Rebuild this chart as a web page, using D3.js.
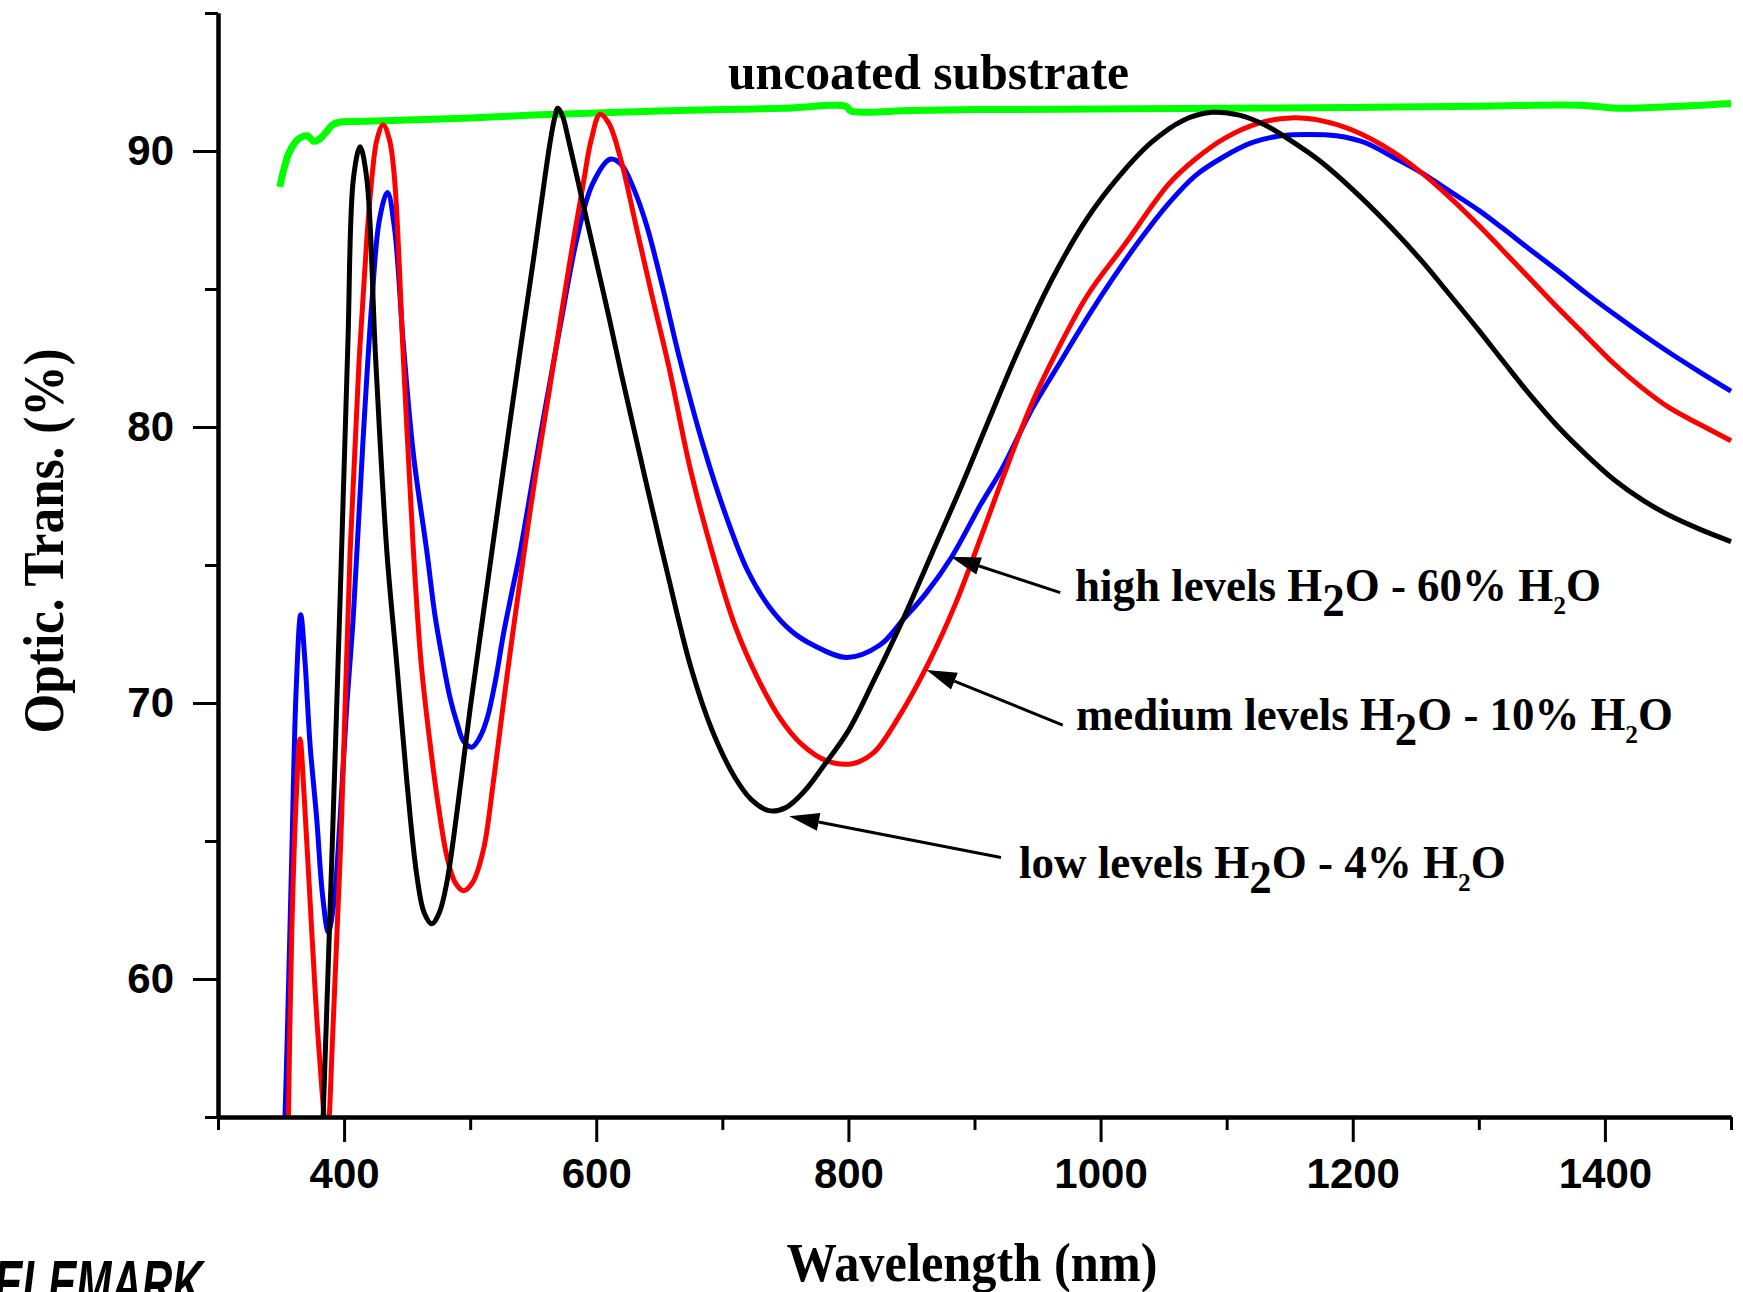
<!DOCTYPE html>
<html>
<head>
<meta charset="utf-8">
<script src="https://cdn.jsdelivr.net/npm/d3@7"></script>
<style>
  html, body { margin: 0; padding: 0; background: #fff; }
  svg { display: block; }
  .tick text { font-family: "Liberation Sans", Arial, sans-serif; font-weight: bold; font-size: 42px; fill: #000; }
  .serif { font-family: "Liberation Serif", "Times New Roman", serif; font-weight: bold; fill: #000; }
</style>
</head>
<body>
<div id="chart"></div>
<script>
// wavelength (nm) / transmission (%)
const subWl = [349, 352, 356, 361, 366, 371, 376, 381, 386, 391, 397, 410, 450, 500, 550, 600, 650, 700, 750, 798, 802, 850, 900, 1000, 1100, 1200, 1300, 1380, 1410, 1450, 1500];
const subT  = [88.7, 89.3, 89.9, 90.3, 90.5, 90.55, 90.35, 90.45, 90.7, 90.95, 91.05, 91.07, 91.12, 91.2, 91.3, 91.38, 91.45, 91.5, 91.55, 91.62, 91.45, 91.47, 91.5, 91.52, 91.55, 91.58, 91.62, 91.66, 91.55, 91.6, 91.72];

const highWl = [352.5, 355, 358.5, 362, 365.6, 369, 373, 378.3, 383, 387.5, 392, 396.8, 402, 407.4, 415, 422, 428, 434.4, 440, 447, 455, 465.6, 472, 478.8, 484, 489.4, 495, 501.3, 507, 513.2, 520, 526.4, 533, 539.7, 550, 560, 572, 585, 597, 611, 620, 630, 640, 653, 666, 685, 702, 720, 737, 755, 772, 799, 825, 843, 862, 882, 905, 922, 945, 966, 990, 1010, 1030, 1054, 1075, 1098, 1120, 1143, 1165, 1187, 1210, 1231, 1255, 1275, 1300, 1319, 1340, 1363, 1385, 1407, 1430, 1451, 1475, 1500];
const highT  = [54, 58, 64.45, 70.5, 73.2, 71.5, 68.5, 65.8, 63.0, 61.7, 62.8, 65.8, 69.8, 73.2, 79.5, 84.5, 87.5, 88.5, 87.2, 83.0, 79.0, 75.5, 73.2, 71.4, 70.2, 69.3, 68.6, 68.4, 68.7, 69.4, 70.8, 72.5, 74.0, 75.5, 78.2, 80.8, 83.8, 86.9, 88.8, 89.7, 89.5, 88.6, 87.3, 85.0, 82.5, 79.3, 76.9, 74.8, 73.5, 72.6, 72.1, 71.65, 72.1, 73.0, 74.0, 75.3, 77.2, 78.5, 80.6, 82.2, 84.0, 85.4, 86.7, 88.1, 89.1, 89.8, 90.3, 90.55, 90.6, 90.55, 90.3, 89.8, 89.2, 88.6, 87.85, 87.2, 86.45, 85.65, 84.85, 84.1, 83.35, 82.7, 82.0, 81.3];

const medWl = [355.5, 358.5, 362, 365, 368.5, 374.4, 380, 386.5, 391, 398, 404.8, 412, 418, 422, 426, 431, 436, 440, 447, 455, 461, 468, 475, 481.5, 488, 494.7, 502, 510.6, 518, 526.4, 534, 542.3, 552, 562, 572, 582, 590, 596, 603, 610, 620, 631, 644, 657.5, 675, 693, 710, 728, 745, 763, 783, 803, 820, 840, 863, 885, 905, 922, 945, 966, 990, 1019, 1054, 1075, 1098, 1125, 1151, 1175, 1200, 1231, 1255, 1275, 1300, 1319, 1340, 1363, 1385, 1407, 1430, 1451, 1475, 1500];
const medT  = [54, 61.7, 66.5, 68.7, 66.5, 61.7, 57.5, 54.3, 58, 65.8, 75.5, 82.5, 86.8, 89, 90.4, 90.95, 90.4, 89, 82.5, 75.5, 71.5, 68.6, 66.2, 64.45, 63.5, 63.2, 63.5, 64.7, 67.0, 70.0, 72.6, 75.3, 78.3, 81.1, 84.0, 86.8, 88.9, 90.4, 91.33, 91.0, 89.6, 87.4, 84.8, 82.2, 78.4, 75.3, 72.8, 70.9, 69.5, 68.5, 67.9, 67.8, 68.2, 69.5, 71.4, 73.6, 76.0, 78.1, 80.8, 82.8, 84.8, 86.6, 88.8, 89.7, 90.45, 91.0, 91.2, 91.1, 90.75, 90.0, 89.2, 88.4, 87.3, 86.4, 85.4, 84.3, 83.3, 82.3, 81.4, 80.7, 80.1, 79.5];

const lowWl = [383, 390, 397, 403, 407.4, 412.7, 418, 425, 433.9, 441.8, 449.7, 457.7, 463.5, 469.6, 475.5, 481.5, 489.4, 500, 510, 520, 531, 541, 550, 557, 563, 567, 569.5, 573, 578, 590, 600, 610, 620, 630, 640, 657, 675, 692, 710, 723, 737, 750, 765, 780, 800, 820, 842, 867, 890, 910, 935, 962, 990, 1015, 1040, 1065, 1088, 1110, 1130, 1150, 1175, 1200, 1231, 1255, 1275, 1300, 1319, 1340, 1363, 1385, 1407, 1430, 1451, 1475, 1500];
const lowT  = [54.5, 64, 74, 83, 89, 90.15, 89, 82.5, 75.5, 71.4, 67.2, 63.75, 62.4, 62.0, 62.4, 63.5, 66.0, 69.8, 73.1, 76.4, 80.0, 83.2, 86.0, 88.3, 90.2, 91.2, 91.55, 91.3, 90.4, 88.0, 86.0, 84.0, 81.9, 79.9, 77.9, 74.6, 71.3, 69.0, 67.3, 66.5, 66.1, 66.2, 66.8, 67.7, 69.0, 70.8, 72.9, 75.5, 77.9, 80.1, 82.8, 85.4, 87.6, 89.1, 90.3, 91.1, 91.4, 91.3, 90.95, 90.4, 89.6, 88.6, 87.2, 86.0, 84.9, 83.5, 82.4, 81.2, 80.0, 79.0, 78.1, 77.35, 76.8, 76.3, 75.85];

const xMajor = [400, 600, 800, 1000, 1200, 1400];
const xMinor = [300, 500, 700, 900, 1100, 1300, 1500];
const yMajor = [60, 70, 80, 90];
const yMinor = [55, 65, 75, 85, 95];

const width = 1743, height = 1292;
const mLeft = 218, mRight = 1731, mTop = 13, mBottom = 1117;

const x = d3.scaleLinear().domain([300, 1500]).range([mLeft, mRight]);
const y = d3.scaleLinear().domain([55, 95]).range([mBottom, mTop]);

const svg = d3.select("#chart").append("svg")
    .attr("width", width)
    .attr("height", height)
    .style("background", "#fff");

svg.append("defs").append("clipPath").attr("id", "plot")
  .append("rect")
    .attr("x", mLeft).attr("y", 0)
    .attr("width", mRight - mLeft + 4).attr("height", mBottom);

// curves
const line = d3.line()
    .x(d => x(d[0]))
    .y(d => y(d[1]))
    .curve(d3.curveCatmullRom.alpha(0.5));

const series = [
  { wl: subWl,  t: subT,  color: "#00ff00", w: 7 },
  { wl: highWl, t: highT, color: "#0000ff", w: 5 },
  { wl: medWl,  t: medT,  color: "#ff0000", w: 5 },
  { wl: lowWl,  t: lowT,  color: "#000000", w: 5 }
];

const curves = svg.append("g").attr("clip-path", "url(#plot)");
series.forEach(s => {
  curves.append("path")
      .datum(d3.zip(s.wl, s.t))
      .attr("fill", "none")
      .attr("stroke", s.color)
      .attr("stroke-width", s.w)
      .attr("stroke-linejoin", "round")
      .attr("d", line);
});

// axes
function styleAxis(g) {
  g.select(".domain").attr("stroke", "#000").attr("stroke-width", 4);
  g.selectAll(".tick line").attr("stroke", "#000").attr("stroke-width", 3);
}

svg.append("g")
    .attr("transform", `translate(0,${mBottom})`)
    .call(d3.axisBottom(x).tickValues(xMinor).tickSize(13).tickSizeOuter(0).tickFormat(""))
    .call(styleAxis);
svg.append("g")
    .attr("transform", `translate(0,${mBottom})`)
    .call(d3.axisBottom(x).tickValues(xMajor).tickSize(25).tickSizeOuter(0).tickPadding(16).tickFormat(d3.format("d")))
    .call(styleAxis);

svg.append("g")
    .attr("transform", `translate(${mLeft},0)`)
    .call(d3.axisLeft(y).tickValues(yMinor).tickSize(13).tickSizeOuter(0).tickFormat(""))
    .call(styleAxis);
svg.append("g")
    .attr("transform", `translate(${mLeft},0)`)
    .call(d3.axisLeft(y).tickValues(yMajor).tickSize(25).tickSizeOuter(0).tickPadding(19).tickFormat(d3.format("d")))
    .call(styleAxis);

// text helper: squeeze text horizontally to a target width
function fitText(g, w) {
  const t = g.select("text");
  const bb = t.node().getBBox();
  t.attr("transform", `scale(${w / bb.width},1)`);
}

// axis titles
const yt = svg.append("g").attr("transform", "translate(63,541) rotate(-90)");
yt.append("text").attr("class", "serif").attr("text-anchor", "middle")
    .style("font-size", "56px").text("Optic. Trans. (%)");
fitText(yt, 385);

const xt = svg.append("g").attr("transform", "translate(972,1281)");
xt.append("text").attr("class", "serif").attr("text-anchor", "middle")
    .style("font-size", "54px").text("Wavelength (nm)");
fitText(xt, 371);

const ut = svg.append("g").attr("transform", "translate(728,89)");
ut.append("text").attr("class", "serif").style("font-size", "50px").text("uncoated substrate");
fitText(ut, 401);

// annotations
const notes = [
  { pre: "high levels H", mid: "O - 60% H", tx: 1075, ty: 601, w: 526, tail: [968, 74.0], tip: [881, 75.3] },
  { pre: "medium levels H", mid: "O - 10% H", tx: 1076, ty: 730, w: 597, tail: [970, 69.2], tip: [862, 71.2] },
  { pre: "low levels H", mid: "O - 4% H", tx: 1019, ty: 878, w: 487, tail: [921, 64.4], tip: [753, 65.9] }
];

notes.forEach(n => {
  const g = svg.append("g").attr("transform", `translate(${n.tx},${n.ty})`);
  const t = g.append("text").attr("class", "serif").style("font-size", "46px");
  t.append("tspan").text(n.pre);
  t.append("tspan").attr("dy", 15).text("2");
  t.append("tspan").attr("dy", -15).text(n.mid);
  t.append("tspan").attr("dy", 13).style("font-size", "26px").text("2");
  t.append("tspan").attr("dy", -13).text("O");
  fitText(g, n.w);

  const x1 = x(n.tail[0]), y1 = y(n.tail[1]);
  const x2 = x(n.tip[0]), y2 = y(n.tip[1]);
  const a = Math.atan2(y2 - y1, x2 - x1);
  const hl = 30, hw = 9;
  const bx = x2 - hl * Math.cos(a), by = y2 - hl * Math.sin(a);
  svg.append("line")
      .attr("x1", x1).attr("y1", y1).attr("x2", bx).attr("y2", by)
      .attr("stroke", "#000").attr("stroke-width", 3);
  svg.append("path")
      .attr("d", `M${x2},${y2}L${bx + hw * Math.sin(a)},${by - hw * Math.cos(a)}L${bx - hw * Math.sin(a)},${by + hw * Math.cos(a)}Z`)
      .attr("fill", "#000");
});

// logo, cut off at bottom-left as in the source image
const lg = svg.append("g").attr("transform", "translate(-6,1306)");
lg.append("text")
    .style("font-family", "'Liberation Sans Narrow', 'Liberation Sans', sans-serif")
    .style("font-weight", "bold").style("font-style", "italic")
    .style("font-size", "64px").attr("fill", "#000")
    .text("ELEMARK");
fitText(lg, 212);
</script>
</body>
</html>
